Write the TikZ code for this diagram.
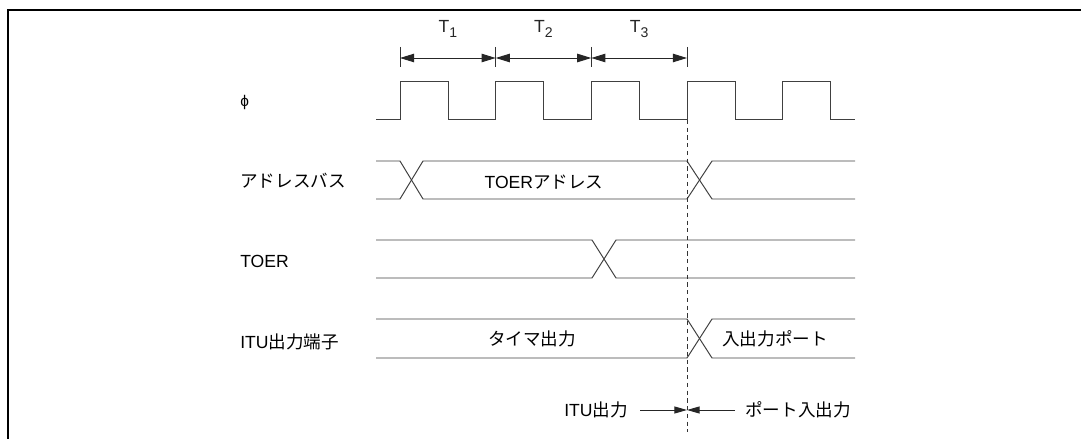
\documentclass[tikz,border=0pt]{standalone}
\usepackage{fontspec}
\setmainfont{Liberation Sans}
\newfontfamily\jp{Noto Sans CJK JP}
\usepackage{tikz}
\usetikzlibrary{positioning,arrows.meta,calc}
\newcommand{\Tsub}[1]{T\raisebox{-0.55ex}{\fontsize{10}{11}\selectfont #1}}
\tikzset{
  frame/.style={line width=1.5pt,black},
  wave/.style={line width=0.7pt,black!75,line join=miter},
  marker/.style={line width=0.6pt,black!80,dashed,dash pattern=on 3pt off 2.5pt},
  tick/.style={line width=0.7pt,black!80},
  span/.style={{Triangle[length=10pt,width=6pt]}-{Triangle[length=10pt,width=6pt]},line width=0.7pt,black!85},
  ptr/.style={-{Triangle[length=9pt,width=5pt]},line width=0.7pt,black!85},
  sig/.style={anchor=west,inner sep=0pt,font=\fontsize{12.5}{15}\selectfont},
  lbl/.style={inner sep=0pt,font=\fontsize{12.5}{15}\selectfont},
}

\begin{document}
\begin{tikzpicture}[x=0.025cm,y=-0.025cm]
  \useasboundingbox (0,0) rectangle (1081,439);
  \draw[frame] (8,439) -- (8,10) -- (1081,10);

  % signal names
  \node[sig] (nphi)  at (240,103) {\fontsize{11}{12}\selectfont ϕ};
  \node[sig] (naddr) at (240,181) {\jp アドレスバス};
  \node[sig] (ntoer) at (240,261) {TOER};
  \node[sig] (nitu)  at (240,342) {ITU{\jp 出力端子}};

  % states T1..T3
  \foreach \i/\x in {0/400,1/495.7,2/591.3,3/687} {
    \coordinate (t\i) at (\x,58);
    \draw[tick] (\x,47) -- (\x,67);
  }
  \draw[span] (t0) -- node[lbl,above=14pt] (lt1) {\Tsub{1}} (t1);
  \draw[span] (t1) -- node[lbl,above=14pt] (lt2) {\Tsub{2}} (t2);
  \draw[span] (t2) -- node[lbl,above=14pt] (lt3) {\Tsub{3}} (t3);

  % clock
  \draw[wave] (376,119) \foreach \i in {0,...,4} {
      -- ({400+95.67*\i},119) -- ({400+95.67*\i},81)
      -- ({448+95.67*\i},81) -- ({448+95.67*\i},119)} -- (855,119);

  % address bus
  \draw[wave] (376,161) -- (400,161) -- (423,199) -- (687,199) -- (712,161) -- (855,161);
  \draw[wave] (376,199) -- (400,199) -- (423,161) -- (687,161) -- (712,199) -- (855,199);
  \node[lbl] (vaddr) at (544,182) {TOER{\jp アドレス}};

  % TOER
  \draw[wave] (376,240) -- (592,240) -- (616,278) -- (855,278);
  \draw[wave] (376,278) -- (592,278) -- (616,240) -- (855,240);

  % ITU pin
  \draw[wave] (376,319) -- (687,319) -- (712,358) -- (855,358);
  \draw[wave] (376,358) -- (687,358) -- (712,319) -- (855,319);
  \node[lbl] (vtimer) at (532,339) {\jp タイマ出力};
  \node[lbl] (vport)  at (775,339) {\jp 入出力ポート};

  % switch point
  \coordinate (swtop) at (687,120);
  \coordinate (swbot) at (687,432);
  \draw[marker] (swtop) -- (swbot);
  \coordinate (mid) at (687,410);
  \node[lbl,anchor=east] (litu)  at (628,410) {ITU{\jp 出力}};
  \node[lbl,anchor=west] (lport) at (745,410) {\jp ポート入出力};
  \coordinate (ain)  at (640,410);
  \coordinate (aout) at (735,410);
  \draw[ptr] (ain) -- (mid);
  \draw[ptr] (aout) -- (mid);
\end{tikzpicture}
\end{document}
